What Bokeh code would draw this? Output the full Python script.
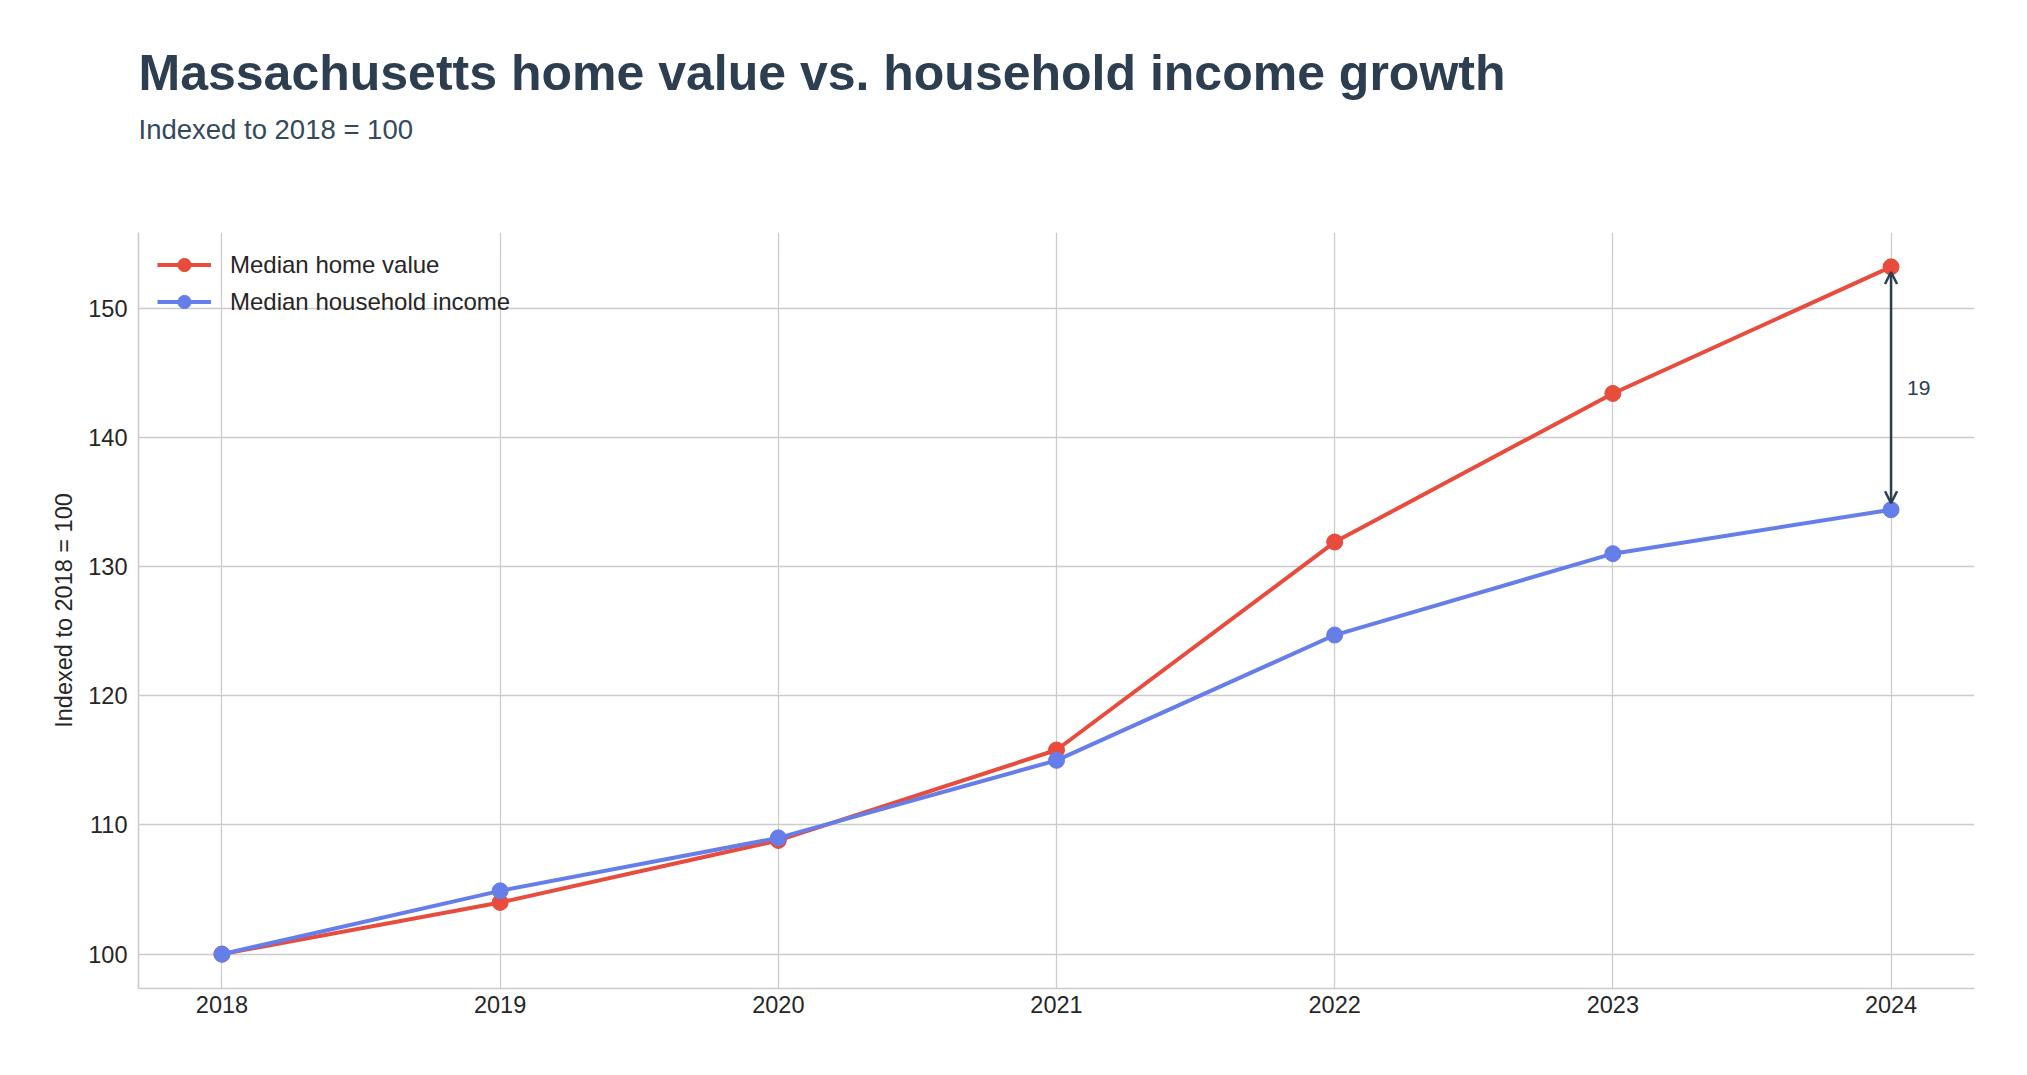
from bokeh.plotting import figure
from bokeh.models import Range1d, FixedTicker, Label, Arrow, OpenHead, Legend, LegendItem, Title
from bokeh.embed import file_html
from bokeh.resources import INLINE

# ---- data ----
years = [2018, 2019, 2020, 2021, 2022, 2023, 2024]
home_value = [100.0, 104.0, 108.8, 115.8, 131.9, 143.4, 153.2]
household_income = [100.0, 104.9, 109.0, 115.0, 124.7, 131.0, 134.4]
y_ticks = [100, 110, 120, 130, 140, 150]
title_text = "Massachusetts home value vs. household income growth"
subtitle_text = "Indexed to 2018 = 100"
y_label = "Indexed to 2018 = 100"
series_names = ["Median home value", "Median household income"]

RED = "#e74c3c"
BLUE = "#667eea"
DARK = "#2c3e50"
FONT = "Liberation Sans"

# ranges with 5% padding (matplotlib style)
xpad = 0.05 * (max(years) - min(years))
all_y = home_value + household_income
ypad = 0.05 * (max(all_y) - min(all_y))

FRAME_H = 756
p = figure(width=2007, height=1059,
           x_range=Range1d(min(years) - xpad, max(years) + xpad),
           y_range=Range1d(min(all_y) - ypad, max(all_y) + ypad),
           output_backend="svg", toolbar_location=None,
           min_border_left=138, min_border_right=33,
           min_border_top=232, min_border_bottom=71)
p.outline_line_color = None
p.background_fill_color = "white"
p.border_fill_color = "white"

# axes
for ax in (p.xaxis[0], p.yaxis[0]):
    ax.axis_line_color = "#cccccc"
    ax.axis_line_width = 1.6
    ax.major_tick_line_color = None
    ax.minor_tick_line_color = None
    ax.major_tick_out = 0
    ax.major_tick_in = 0
    ax.major_label_text_font = FONT
    ax.major_label_text_font_size = "23.5px"
    ax.major_label_text_color = "#262626"

p.xaxis[0].ticker = FixedTicker(ticks=years)
p.xaxis[0].major_label_standoff = 7
p.yaxis[0].ticker = FixedTicker(ticks=y_ticks)
p.yaxis[0].major_label_standoff = 11
p.yaxis[0].axis_label = y_label
p.yaxis[0].axis_label_text_font = FONT
p.yaxis[0].axis_label_text_font_size = "23.5px"
p.yaxis[0].axis_label_text_font_style = "normal"
p.yaxis[0].axis_label_text_color = "#262626"
p.yaxis[0].axis_label_standoff = 8

p.xgrid.ticker = FixedTicker(ticks=years)
p.ygrid.ticker = FixedTicker(ticks=y_ticks)
for g in (p.xgrid[0], p.ygrid[0]):
    g.grid_line_color = "#cccccc"
    g.grid_line_width = 1.3

# series
r1 = p.line(years, home_value, line_color=RED, line_width=4)
r2 = p.scatter(years, home_value, size=16, fill_color=RED, line_color=RED)
r3 = p.line(years, household_income, line_color=BLUE, line_width=4)
r4 = p.scatter(years, household_income, size=16, fill_color=BLUE, line_color=BLUE)

GH = 33
SP = 4
legend = Legend(items=[LegendItem(label=series_names[0], renderers=[r1, r2]),
                       LegendItem(label=series_names[1], renderers=[r3, r4])],
                location=(19, FRAME_H - 16 - (2 * GH + SP)))
legend.margin = 0
legend.padding = 0
legend.spacing = SP
legend.glyph_width = 54
legend.glyph_height = GH
legend.label_height = GH
legend.label_standoff = 19
legend.label_text_font = FONT
legend.label_text_font_size = "24px"
legend.label_text_color = "#262626"
legend.border_line_color = None
legend.background_fill_alpha = 0
p.add_layout(legend, "center")

# gap annotation
gap = home_value[-1] - household_income[-1]
arrow = Arrow(x_start=years[-1], y_start=household_income[-1] + 0.5,
              x_end=years[-1], y_end=home_value[-1] - 0.4,
              start=OpenHead(size=12, line_width=2.5, line_color=DARK),
              end=OpenHead(size=12, line_width=2.5, line_color=DARK),
              line_width=2.5, line_color=DARK)
p.add_layout(arrow)
p.add_layout(Label(x=years[-1], y=(home_value[-1] + household_income[-1]) / 2,
                   x_offset=16, text=f"{round(gap)}", text_baseline="middle",
                   text_font=FONT, text_font_size="21px", text_color=DARK))

# titles: panels stack outward from the frame (spacer, subtitle, title)
p.add_layout(Title(text=" ", text_font_size="2px", standoff=73), "above")
p.add_layout(Title(text=subtitle_text, align="left", text_font=FONT,
                   text_font_size="27.5px", text_font_style="normal",
                   text_color="#34495e", standoff=22), "above")
p.add_layout(Title(text=title_text, align="left", text_font=FONT,
                   text_font_size="50px", text_font_style="bold",
                   text_color=DARK, standoff=0), "above")

open("out.html", "w").write(file_html(p, INLINE))
